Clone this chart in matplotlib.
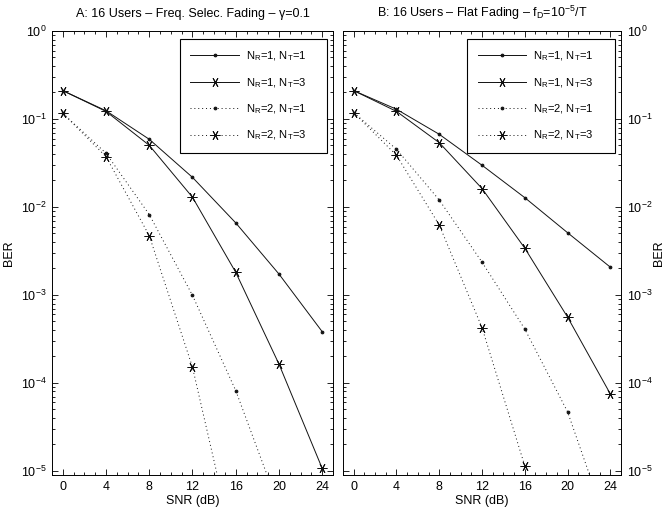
import matplotlib
matplotlib.use("Agg")
import matplotlib.pyplot as plt
import numpy as np

plt.rcParams["font.family"] = ["Liberation Sans", "DejaVu Sans"]
plt.rcParams["font.size"] = 9
plt.rcParams["mathtext.fontset"] = "custom"
plt.rcParams["mathtext.rm"] = "Liberation Sans"
plt.rcParams["mathtext.it"] = "Liberation Sans:italic"

snr = [0, 4, 8, 12, 16, 20, 24]

# panel A: frequency selective fading
a_r1t1 = [0.21, 0.124, 0.0588, 0.0217, 0.0066, 0.00173, 3.83e-4]
a_r1t3 = [0.21, 0.122, 0.0502, 0.0129, 0.00181, 1.64e-4, 1.07e-5]
a_r2t1 = [0.116, 0.0408, 0.0082, 9.9e-4, 8.2e-5, 3.9e-6]
a_r2t3 = [0.116, 0.0373, 0.00472, 1.51e-4, 1.1e-6]

# panel B: flat fading
b_r1t1 = [0.21, 0.129, 0.067, 0.0298, 0.01276, 0.0051, 0.00207]
b_r1t3 = [0.21, 0.122, 0.0538, 0.0162, 0.0034, 5.6e-4, 7.5e-5]
b_r2t1 = [0.118, 0.0453, 0.0120, 0.00236, 4.1e-4, 4.7e-5, 1.9e-6]
b_r2t3 = [0.118, 0.0387, 0.00624, 4.25e-4, 1.14e-5]

labels = [
    r"N$_\mathrm{R}$=1, N$_\mathrm{T}$=1",
    r"N$_\mathrm{R}$=1, N$_\mathrm{T}$=3",
    r"N$_\mathrm{R}$=2, N$_\mathrm{T}$=1",
    r"N$_\mathrm{R}$=2, N$_\mathrm{T}$=3",
]
titles = [
    "A: 16 Users \u2013 Freq. Selec. Fading \u2013 \u03b3=0.1",
    "B: 16 Users \u2013 Flat Fading \u2013 f$_\\mathrm{D}$=10$^{-5}$/T",
]

star = (6, 2, 90)
styles = [
    dict(linestyle="-", marker=".", markersize=4),
    dict(linestyle="-", marker=star, markersize=7),
    dict(linestyle=(0, (1, 3)), marker=".", markersize=4),
    dict(linestyle=(0, (1, 3)), marker=star, markersize=7),
]

fig = plt.figure(figsize=(6.64, 5.14), dpi=100)
ax_a = fig.add_axes([0.0783, 0.0759, 0.4232, 0.8638])
ax_b = fig.add_axes([0.5166, 0.0759, 0.4187, 0.8638])

panels = [
    (ax_a, [a_r1t1, a_r1t3, a_r2t1, a_r2t3]),
    (ax_b, [b_r1t1, b_r1t3, b_r2t1, b_r2t3]),
]
# legend boxes in axes fraction (x0, width)
leg_boxes = [(0.455, 0.524), (0.446, 0.532)]

for i, (ax, series) in enumerate(panels):
    for vals, lab, st in zip(series, labels, styles):
        ax.semilogy(snr[:len(vals)], vals, color="#111111", linewidth=0.7,
                    markeredgewidth=0.7, label=lab, **st)
    ax.set_xlim(-1, 25)
    ax.set_ylim(9e-6, 1)
    ax.set_xticks(snr)
    ax.set_xticks(np.arange(-1, 26, 1), minor=True)
    ax.set_xlabel("SNR (dB)", labelpad=2)
    ax.set_title(titles[i], fontsize=9, pad=10)
    ax.tick_params(which="both", direction="in", top=True, bottom=True,
                   left=True, right=True, width=0.6)
    ax.tick_params(which="major", length=4, pad=4)
    ax.tick_params(which="minor", length=2.5)
    for sp in ax.spines.values():
        sp.set_linewidth(0.7)
    ax.set_ylabel("BER")
    x0, w = leg_boxes[i]
    leg = ax.legend(loc="upper left", bbox_to_anchor=(x0, 0.982, w, 0.0),
                    mode="expand", handlelength=4.4, labelspacing=1.15,
                    borderpad=0.95, handletextpad=0.6, fancybox=False,
                    framealpha=1, edgecolor="black", fontsize=8,
                    borderaxespad=0)
    leg.get_frame().set_linewidth(0.8)

ax_b.tick_params(which="both", labelleft=False, labelright=True)
ax_b.yaxis.set_label_position("right")
ax_b.set_ylabel("BER")
ax_b.yaxis.set_label_coords(1.115, 0.5)

fig.savefig("out.png", dpi=100)
